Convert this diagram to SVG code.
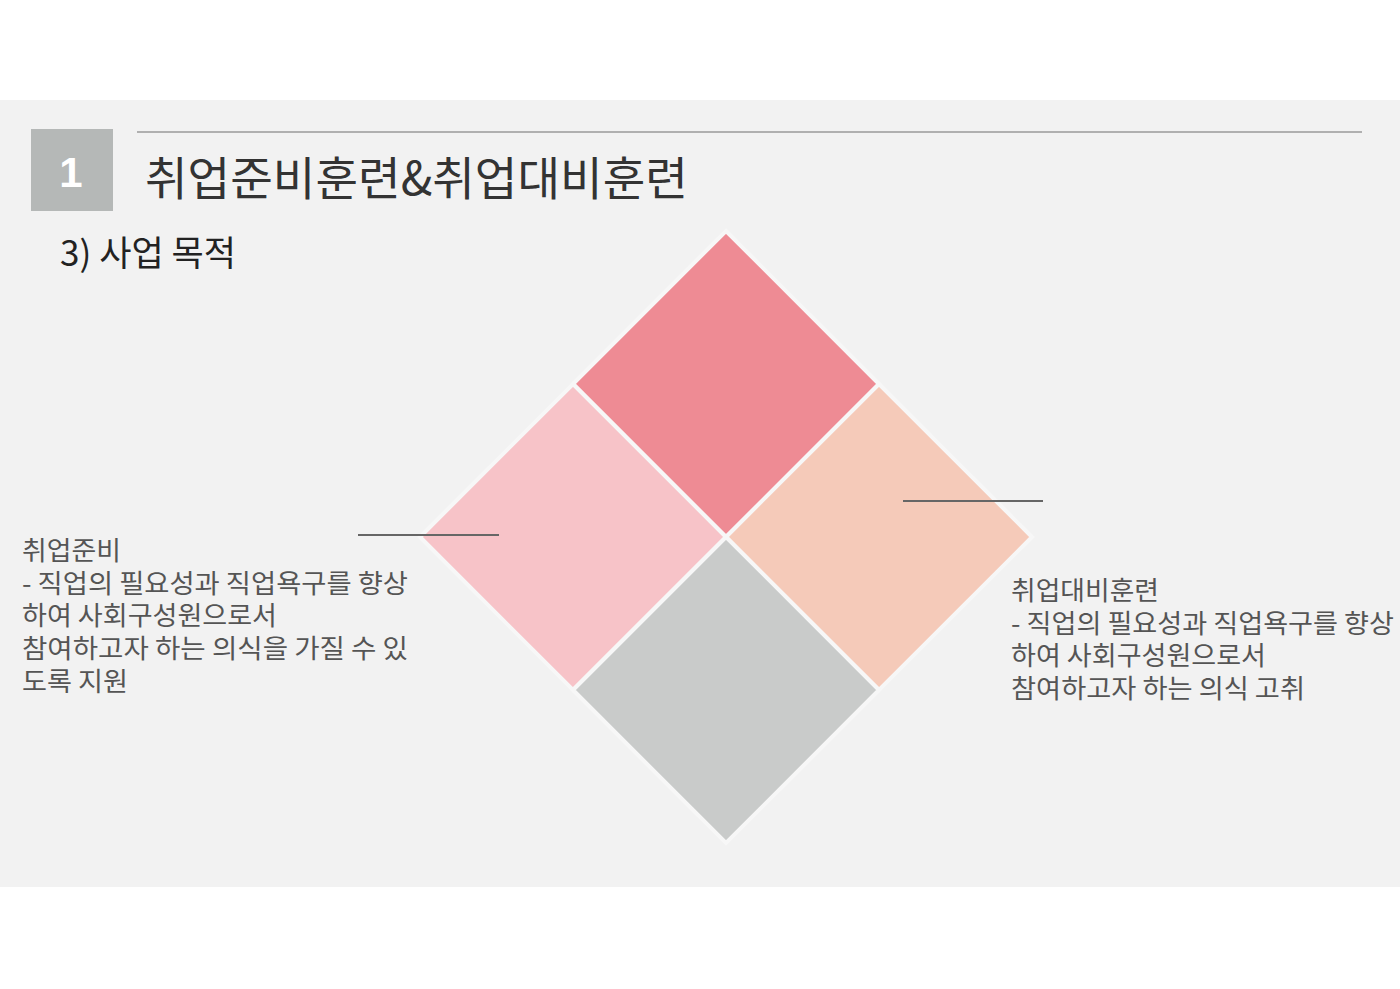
<svg xmlns="http://www.w3.org/2000/svg" width="1400" height="989" viewBox="0 0 1400 989">
<style>
.t{font-family:"Noto Sans CJK KR","Liberation Sans",sans-serif;fill:#555}
.d{stroke:#f7f7f7;stroke-width:4}
.c{stroke:#666;stroke-width:2}
</style>
<rect width="1400" height="989" fill="#ffffff"/>
<rect x="0" y="100" width="1400" height="787" fill="#f2f2f2"/>
<g id="header">
<rect x="31" y="129" width="82" height="82" fill="#b5b8b7"/>
<text x="71" y="187" text-anchor="middle" font-family="Liberation Sans,sans-serif" font-weight="bold" font-size="42" fill="#ffffff">1</text>
<line x1="137" y1="132" x2="1362" y2="132" stroke="#9a9a9a" stroke-width="1.5"/>
<text x="145" y="195" class="t" style="fill:#333" font-size="46" textLength="543" lengthAdjust="spacingAndGlyphs">취업준비훈련&amp;취업대비훈련</text>
<text x="60" y="266" class="t" style="fill:#222" font-size="35" textLength="176" lengthAdjust="spacingAndGlyphs">3) 사업 목적</text>
</g>
<g id="diamond-top"><polygon class="d" points="726,231 879,384 726,537 573,384" fill="#ee8b94"/></g>
<g id="diamond-left"><polygon class="d" points="573,384 726,537 573,690 420,537" fill="#f7c3c8"/></g>
<g id="diamond-right"><polygon class="d" points="879,384 1032,537 879,690 726,537" fill="#f5cab9"/></g>
<g id="diamond-bottom"><polygon class="d" points="726,537 879,690 726,843 573,690" fill="#c9cbca"/></g>
<g id="connectors">
<line class="c" x1="358" y1="535" x2="499" y2="535"/>
<line class="c" x1="903" y1="501" x2="1043" y2="501"/>
</g>
<g id="text-left">
<text class="t" font-size="26"><tspan x="22" y="560" textLength="99" lengthAdjust="spacingAndGlyphs">취업준비</tspan><tspan x="22" y="593" textLength="386" lengthAdjust="spacingAndGlyphs">- 직업의 필요성과 직업욕구를 향상</tspan><tspan x="22" y="625" textLength="255" lengthAdjust="spacingAndGlyphs">하여 사회구성원으로서</tspan><tspan x="22" y="658" textLength="386" lengthAdjust="spacingAndGlyphs">참여하고자 하는 의식을 가질 수 있</tspan><tspan x="22" y="691" textLength="106" lengthAdjust="spacingAndGlyphs">도록 지원</tspan></text>
</g>
<g id="text-right">
<text class="t" font-size="26"><tspan x="1011" y="600" textLength="148" lengthAdjust="spacingAndGlyphs">취업대비훈련</tspan><tspan x="1011" y="633" textLength="383" lengthAdjust="spacingAndGlyphs">- 직업의 필요성과 직업욕구를 향상</tspan><tspan x="1011" y="665" textLength="255" lengthAdjust="spacingAndGlyphs">하여 사회구성원으로서</tspan><tspan x="1011" y="698" textLength="294" lengthAdjust="spacingAndGlyphs">참여하고자 하는 의식 고취</tspan></text>
</g>
</svg>
